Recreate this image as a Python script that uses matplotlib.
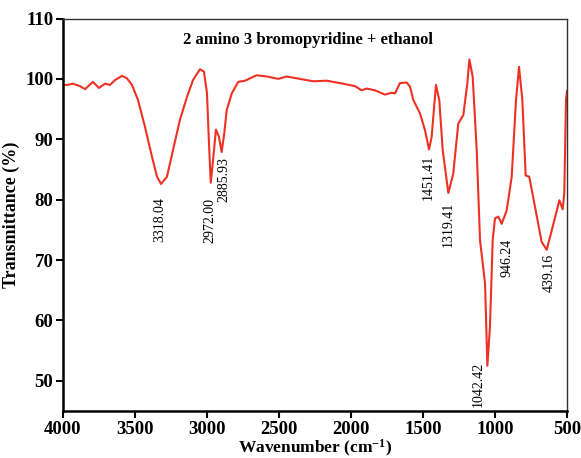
import numpy as np
import matplotlib
matplotlib.use('Agg')
import matplotlib.pyplot as plt

plt.rcParams['font.family'] = ['Liberation Serif', 'DejaVu Serif']
plt.rcParams['mathtext.fontset'] = 'custom'
plt.rcParams['mathtext.rm'] = 'Liberation Serif'
plt.rcParams['mathtext.bf'] = 'Liberation Serif:bold'
plt.rcParams['mathtext.default'] = 'bf'

# Spektrum
wavenumber = [4000, 3972, 3931, 3882, 3847, 3792, 3750, 3708, 3674, 3639,
              3590, 3556, 3521, 3479, 3431, 3382, 3347, 3319, 3278, 3236,
              3188, 3139, 3097, 3049, 3021, 3000, 2986, 2974, 2958, 2938,
              2918, 2898, 2880, 2863, 2828, 2783, 2736, 2655, 2585, 2505,
              2447, 2354, 2262, 2169, 2076, 1972, 1926, 1891, 1833, 1764,
              1717, 1694, 1660, 1613, 1590, 1567, 1521, 1486, 1458, 1440,
              1410, 1387, 1363, 1324, 1290, 1255, 1220, 1192, 1178, 1155,
              1127, 1104, 1069, 1053, 1035, 1016, 1000, 977, 954, 919,
              884, 854, 833, 810, 787, 762, 722, 676, 641, 606,
              576, 553, 530, 519, 507, 500]
transmittance = [99.0, 99.0, 99.2, 98.8, 98.3, 99.5, 98.5, 99.2, 99.0, 99.8,
                 100.5, 100.1, 99.0, 96.5, 92.1, 87.1, 83.8, 82.6, 83.8, 88.2,
                 93.2, 97.0, 99.8, 101.6, 101.2, 97.6, 89.3, 82.8, 86.5, 91.6,
                 90.5, 87.9, 91.0, 94.8, 97.6, 99.5, 99.7, 100.6, 100.4, 100.0,
                 100.4, 100.0, 99.6, 99.7, 99.3, 98.8, 98.1, 98.4, 98.1, 97.4,
                 97.7, 97.6, 99.3, 99.4, 98.7, 96.5, 94.3, 91.5, 88.3, 90.4,
                 99.0, 96.5, 88.2, 81.1, 84.3, 92.6, 94.0, 99.3, 103.2, 100.4,
                 88.2, 73.3, 66.1, 52.5, 58.9, 73.3, 76.9, 77.2, 76.0, 78.2,
                 83.8, 96.5, 102.0, 96.5, 84.0, 83.8, 78.8, 73.0, 71.7, 74.9,
                 77.7, 79.9, 78.4, 81.0, 96.5, 98.0]

# Toppe: tekst, x-position og top af teksten
peak_labels = ['3318.04', '2972.00', '2885.93', '1451.41', '1319.41',
               '1042.42', '946.24', '439.16']
peak_x = [3326, 2979, 2882, 1465, 1326, 1118, 919, 623]
peak_top = [80.4, 80.2, 87.0, 87.4, 79.6, 53.1, 73.5, 71.1]

fig = plt.figure(figsize=(5.81, 4.58), dpi=100)
ax = fig.add_axes([0.1084, 0.1026, 0.8675, 0.857])

ax.plot(wavenumber, transmittance, color='#ee3124', lw=1.5)

for lab, x, y in zip(peak_labels, peak_x, peak_top):
    ax.text(x, y, lab, rotation=90, ha='center', va='top', fontsize=10)

ax.set_xlim(4000, 500)
ax.set_ylim(45, 110)
ax.set_xticks(np.arange(4000, 499, -500))
ax.set_yticks(np.arange(50, 111, 10))

for s in ['left', 'bottom']:
    ax.spines[s].set_linewidth(1.8)
    ax.spines[s].set_color('black')
for s in ['top', 'right']:
    ax.spines[s].set_linewidth(1.0)
    ax.spines[s].set_color('#333333')

ax.tick_params(direction='out', length=5, width=1.5, labelsize=13.5, pad=2)
for t in ax.get_xticklabels() + ax.get_yticklabels():
    t.set_fontweight('bold')

ax.set_xlabel('Wavenumber (cm$^{-1}$)', fontsize=12.5, fontweight='bold',
              va='center')
ax.xaxis.set_label_coords(0.5, -0.095)
ax.set_ylabel('Transmittance (%)', fontsize=13, fontweight='bold', labelpad=4)
ax.text(0.486, 0.945, '2 amino 3 bromopyridine + ethanol', transform=ax.transAxes,
        ha='center', va='center', fontsize=12, fontweight='bold')

fig.savefig('out.png', dpi=100)
